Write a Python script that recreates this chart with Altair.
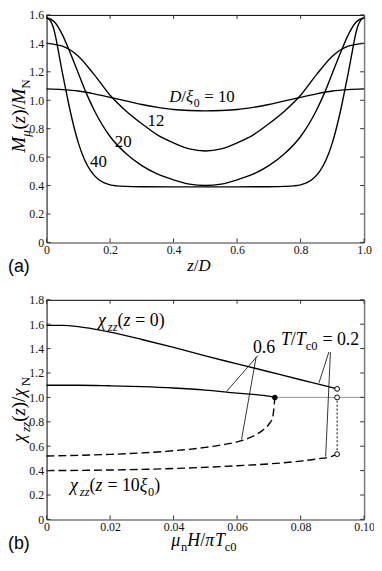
import altair as alt
import pandas as pd

# ---------------- panel (a): M_mu(z)/M_N versus z/D ----------------
z_d10 = [0, 0.05, 0.1, 0.15, 0.2, 0.25, 0.3, 0.35, 0.4, 0.45, 0.5, 0.55, 0.6, 0.65, 0.7, 0.75, 0.8, 0.85, 0.9, 0.95, 1.0]
m_d10 = [1.08, 1.075, 1.065, 1.045, 1.02, 0.995, 0.97, 0.95, 0.935, 0.928, 0.925, 0.928, 0.935, 0.95, 0.97, 0.995, 1.02, 1.045, 1.065, 1.075, 1.08]
z_d12 = [0, 0.05, 0.1, 0.15, 0.2, 0.25, 0.3, 0.35, 0.4, 0.45, 0.5, 0.55, 0.6, 0.65, 0.7, 0.75, 0.8, 0.85, 0.9, 0.95, 1.0]
m_d12 = [1.40, 1.38, 1.31, 1.18, 1.035, 0.925, 0.835, 0.755, 0.70, 0.658, 0.643, 0.658, 0.70, 0.755, 0.835, 0.925, 1.035, 1.18, 1.31, 1.38, 1.40]
z_d20 = [0, 0.025, 0.05, 0.075, 0.1, 0.125, 0.15, 0.2, 0.25, 0.3, 0.35, 0.4, 0.45, 0.5,
         0.55, 0.6, 0.65, 0.7, 0.75, 0.8, 0.85, 0.875, 0.9, 0.925, 0.95, 0.975, 1.0]
m_d20 = [1.58, 1.55, 1.46, 1.33, 1.19, 1.05, 0.93, 0.745, 0.625, 0.54, 0.48, 0.44, 0.41, 0.40,
         0.41, 0.44, 0.48, 0.54, 0.625, 0.745, 0.93, 1.05, 1.19, 1.33, 1.46, 1.55, 1.58]
z_d40 = [0, 0.01, 0.02, 0.03, 0.04, 0.05, 0.06, 0.07, 0.08, 0.09, 0.1, 0.12, 0.14, 0.16, 0.18, 0.2,
         0.22, 0.25, 0.3, 0.4, 0.5, 0.6, 0.7, 0.75, 0.78, 0.8, 0.82, 0.84, 0.86, 0.88, 0.9,
         0.91, 0.92, 0.93, 0.94, 0.95, 0.96, 0.97, 0.98, 0.99, 1.0]
m_d40 = [1.58, 1.565, 1.52, 1.43, 1.31, 1.19, 1.08, 0.97, 0.87, 0.78, 0.70, 0.58, 0.50, 0.45, 0.42, 0.405,
         0.398, 0.394, 0.392, 0.391, 0.391, 0.391, 0.392, 0.394, 0.398, 0.405, 0.42, 0.45, 0.50, 0.58, 0.70,
         0.78, 0.87, 0.97, 1.08, 1.19, 1.31, 1.43, 1.52, 1.565, 1.58]

xa_ticks = [0, 0.2, 0.4, 0.6, 0.8, 1.0]
ya_ticks = [0, 0.2, 0.4, 0.6, 0.8, 1.0, 1.2, 1.4, 1.6]

# curve labels of panel (a): left/baseline anchor in data units
a_label_x = [0.386, 0.318, 0.215, 0.137]
a_label_y = [0.985, 0.816, 0.672, 0.528]
a_label_runs = [
    [("D", "i"), ("/", "r"), ("ξ", "i"), ("0", "sr"), (0.28, "g"), ("= 10", "r")],
    [("12", "r")],
    [("20", "r")],
    [("40", "r")],
]

# ---------------- panel (b): chi_zz(z)/chi_N versus mu_n H / pi T_c0 ----------------
h_t02_z0 = [0, 0.005, 0.01, 0.015, 0.02, 0.03, 0.04, 0.05, 0.06, 0.07, 0.08, 0.09, 0.0915]
chi_t02_z0 = [1.59, 1.59, 1.58, 1.56, 1.535, 1.475, 1.41, 1.34, 1.275, 1.21, 1.145, 1.08, 1.07]
h_t06_z0 = [0, 0.01, 0.02, 0.03, 0.04, 0.05, 0.06, 0.065, 0.07, 0.0719]
chi_t06_z0 = [1.10, 1.10, 1.095, 1.088, 1.077, 1.06, 1.035, 1.025, 1.01, 1.0]
h_t06_z10 = [0, 0.01, 0.02, 0.03, 0.04, 0.05, 0.055, 0.06, 0.064, 0.068, 0.070, 0.0712, 0.0717, 0.0719]
chi_t06_z10 = [0.52, 0.525, 0.533, 0.545, 0.563, 0.59, 0.61, 0.635, 0.67, 0.73, 0.78, 0.836, 0.94, 1.0]
h_t02_z10 = [0, 0.02, 0.04, 0.06, 0.07, 0.08, 0.085, 0.09, 0.0915]
chi_t02_z10 = [0.40, 0.405, 0.417, 0.44, 0.455, 0.478, 0.495, 0.518, 0.535]

open_x = [0.0915, 0.0915, 0.0915]
open_y = [1.07, 1.0, 0.535]
filled_x = [0.0719]
filled_y = [1.0]
jump_x = [0.0915]
jump_y = [0.535]
jump_y2 = [1.0]
normal_x = [0.0719]
normal_x2 = [0.1]
normal_y = [1.0]

lead_x1 = [0.0666, 0.0660, 0.0889, 0.0894]
lead_y1 = [1.345, 1.332, 1.372, 1.372]
lead_x2 = [0.0567, 0.0614, 0.0858, 0.0879]
lead_y2 = [1.05, 0.655, 1.12, 0.515]

xb_ticks = [0, 0.02, 0.04, 0.06, 0.08, 0.1]
yb_ticks = [0, 0.2, 0.4, 0.6, 0.8, 1.0, 1.2, 1.4, 1.6, 1.8]

b_label_x = [0.0162, 0.0738, 0.065, 0.0074]
b_label_y = [1.584, 1.431, 1.36, 0.233]
b_label_runs = [
    [("χ", "i"), ("zz", "si"), ("(", "r"), ("z", "i"), (0.28, "g"), ("= 0)", "r")],
    [("T", "i"), ("/", "r"), ("T", "i"), ("c0", "sr"), (0.28, "g"), ("= 0.2", "r")],
    [("0.6", "r")],
    [("χ", "i"), ("zz", "si"), ("(", "r"), ("z", "i"), (0.28, "g"), ("= 10", "r"),
     ("ξ", "i"), ("0", "sr"), (")", "r")],
]

# axis titles (rich text runs)
ya_title = [("M", "i"), ("μ", "si"), ("(", "r"), ("z", "i"), (")/", "r"), ("M", "i"), ("N", "sr")]
xa_title = [("z", "i"), ("/", "r"), ("D", "i")]
yb_title = [("χ", "i"), ("zz", "si"), ("(", "r"), ("z", "i"), (")/", "r"), ("χ", "i"), ("N", "sr")]
xb_title = [("μ", "i"), ("n", "sr"), ("H", "i"), ("/", "r"), ("π", "i"), ("T", "i"), ("c0", "sr")]

# ---------------- layout / style ----------------
FONT = "Liberation Serif, Times New Roman, DejaVu Serif, serif"
SANS = "Liberation Sans, Arial, sans-serif"
W = 321
H = 510
A_RANGE = [230, 0]
B_RANGE = [510, 288]
GREY = "#7a7a7a"
TL = 4

xa = alt.Scale(domain=[0, 1], range=[0, W])
ya = alt.Scale(domain=[0, 1.6], range=A_RANGE)
xb = alt.Scale(domain=[0, 0.1], range=[0, W])
yb = alt.Scale(domain=[0, 1.8], range=B_RANGE)

EM_I = {"M": 0.833, "N": 0.667, "z": 0.389, "D": 0.722, "H": 0.722, "T": 0.556,
        "μ": 0.56, "χ": 0.55, "ξ": 0.46, "π": 0.55}
EM_R = {"(": 0.333, ")": 0.333, "/": 0.278, "=": 0.564, " ": 0.25, ".": 0.25,
        "N": 0.722, "n": 0.5, "c": 0.444}


def text_w(s, size, italic):
    table = EM_I if italic else EM_R
    return sum(table.get(ch, 0.5) for ch in s) * size


def layout_runs(runs, size):
    items, cum = [], 0.0
    for txt, kind in runs:
        if kind == "g":
            cum += txt * size
            continue
        sub = kind.startswith("s")
        it = kind.endswith("i")
        fs = size * 0.7 if sub else size
        shift = size * 0.28 if sub else 0.0
        items.append((txt, fs, it, shift, cum))
        cum += text_w(txt, fs, it)
    return items, cum


def rich_px(runs, x0, y0, size, angle=0, middle=True):
    items, total = layout_runs(runs, size)
    start = -total / 2 if middle else 0.0
    out = []
    for txt, fs, it, shift, off in items:
        if angle == 0:
            px, py = x0 + start + off, y0 + shift
        else:
            px, py = x0 + shift, y0 - (start + off)
        out.append(
            alt.Chart(pd.DataFrame({"t": [txt]}))
            .mark_text(align="left", baseline="alphabetic", font=FONT, fontSize=fs,
                       fontStyle="italic" if it else "normal", angle=angle, color="black")
            .encode(x=alt.value(px), y=alt.value(py), text="t:N")
        )
    return out


def rich_data(runs, x, y, xs, ys, size):
    items, _ = layout_runs(runs, size)
    out = []
    for txt, fs, it, shift, off in items:
        out.append(
            alt.Chart(pd.DataFrame({"x": [x], "y": [y], "t": [txt]}))
            .mark_text(align="left", baseline="alphabetic", font=FONT, fontSize=fs,
                       fontStyle="italic" if it else "normal", dx=off, dy=shift, color="black")
            .encode(x=alt.X("x:Q", scale=xs, axis=None), y=alt.Y("y:Q", scale=ys, axis=None), text="t:N")
        )
    return out


def label_axis(orient, values, fmt, offset=0, color="black", width=1.0):
    return alt.Axis(orient=orient, values=values,
                    labelExpr=f"datum.value == 0 ? '0' : format(datum.value, '{fmt}')",
                    title=None, ticks=False, grid=False, domain=True, domainColor=color,
                    domainWidth=width, labelFont=FONT, labelFontSize=12, labelColor="#111",
                    labelPadding=3 if orient == "left" else 2, labelFlush=False,
                    labelOverlap=False, offset=offset)


def frame_axis(orient, color, width, offset=0):
    return alt.Axis(orient=orient, labels=False, ticks=False, grid=False, title=None,
                    domain=True, domainColor=color, domainWidth=width, offset=offset)


def tick_layers(xs, ys, xt, yt, y_top, y_bot):
    dfx = pd.DataFrame({"v": xt})
    dfy = pd.DataFrame({"v": yt})
    sty = dict(color="#333", strokeWidth=1)
    left = alt.Chart(dfy).mark_rule(**sty).encode(
        y=alt.Y("v:Q", scale=ys, axis=frame_axis("right", GREY, 1.5)),
        x=alt.value(0), x2=alt.value(TL))
    right = alt.Chart(dfy).mark_rule(**sty).encode(
        y=alt.Y("v:Q", scale=ys, axis=None), x=alt.value(W - TL), x2=alt.value(W))
    bottom = alt.Chart(dfx).mark_rule(**sty).encode(
        x=alt.X("v:Q", scale=xs, axis=frame_axis("top", "black", 1, -y_top)),
        y=alt.value(y_bot), y2=alt.value(y_bot - TL))
    top = alt.Chart(dfx).mark_rule(**sty).encode(
        x=alt.X("v:Q", scale=xs, axis=None), y=alt.value(y_top), y2=alt.value(y_top + TL))
    return [left, right, bottom, top]


layers = []

# ---- panel (a)
df_a = pd.concat([
    pd.DataFrame({"z": z_d10, "m": m_d10, "s": "10"}),
    pd.DataFrame({"z": z_d12, "m": m_d12, "s": "12"}),
    pd.DataFrame({"z": z_d20, "m": m_d20, "s": "20"}),
    pd.DataFrame({"z": z_d40, "m": m_d40, "s": "40"}),
])
layers.append(
    alt.Chart(df_a).mark_line(color="black", strokeWidth=1.4, interpolate="monotone").encode(
        x=alt.X("z:Q", scale=xa, axis=label_axis("bottom", xa_ticks, ".1f", A_RANGE[0] - H, GREY, 1.5)),
        y=alt.Y("m:Q", scale=ya, axis=label_axis("left", ya_ticks, ".1f")),
        detail="s:N")
)
layers += tick_layers(xa, ya, xa_ticks, ya_ticks, A_RANGE[1], A_RANGE[0])
for runs, lx, ly in zip(a_label_runs, a_label_x, a_label_y):
    layers += rich_data(runs, lx, ly, xa, ya, 17)

# ---- panel (b)
df_solid = pd.concat([
    pd.DataFrame({"h": h_t02_z0, "c": chi_t02_z0, "s": "a"}),
    pd.DataFrame({"h": h_t06_z0, "c": chi_t06_z0, "s": "b"}),
])
df_dash = pd.concat([
    pd.DataFrame({"h": h_t06_z10, "c": chi_t06_z10, "s": "c"}),
    pd.DataFrame({"h": h_t02_z10, "c": chi_t02_z10, "s": "d"}),
])
layers.append(
    alt.Chart(pd.DataFrame({"x": normal_x, "x2": normal_x2, "y": normal_y})).mark_rule(
        color="#999", strokeWidth=1).encode(
        x=alt.X("x:Q", scale=xb, axis=None), x2="x2:Q", y=alt.Y("y:Q", scale=yb, axis=None))
)
layers.append(
    alt.Chart(df_solid).mark_line(color="black", strokeWidth=1.4, interpolate="monotone").encode(
        x=alt.X("h:Q", scale=xb, axis=label_axis("bottom", xb_ticks, ".2f", B_RANGE[0] - H, GREY, 1.5)),
        y=alt.Y("c:Q", scale=yb, axis=label_axis("left", yb_ticks, ".1f")),
        detail="s:N")
)
layers.append(
    alt.Chart(df_dash).mark_line(color="black", strokeWidth=1.4, strokeDash=[8, 4],
                                 interpolate="monotone").encode(
        x=alt.X("h:Q", scale=xb, axis=None), y=alt.Y("c:Q", scale=yb, axis=None), detail="s:N")
)
layers.append(
    alt.Chart(pd.DataFrame({"x": jump_x, "y": jump_y, "y2": jump_y2})).mark_rule(
        color="black", strokeWidth=1, strokeDash=[2, 2]).encode(
        x=alt.X("x:Q", scale=xb, axis=None), y=alt.Y("y:Q", scale=yb, axis=None), y2="y2:Q")
)
layers.append(
    alt.Chart(pd.DataFrame({"x1": lead_x1, "y1": lead_y1, "x2": lead_x2, "y2": lead_y2})).mark_rule(
        color="black", strokeWidth=0.8).encode(
        x=alt.X("x1:Q", scale=xb, axis=None), y=alt.Y("y1:Q", scale=yb, axis=None),
        x2="x2:Q", y2="y2:Q")
)
layers.append(
    alt.Chart(pd.DataFrame({"x": open_x, "y": open_y})).mark_point(
        shape="circle", filled=True, fill="white", stroke="black", strokeWidth=1,
        size=24, opacity=1).encode(
        x=alt.X("x:Q", scale=xb, axis=None), y=alt.Y("y:Q", scale=yb, axis=None))
)
layers.append(
    alt.Chart(pd.DataFrame({"x": filled_x, "y": filled_y})).mark_point(
        shape="circle", filled=True, color="black", size=30, opacity=1).encode(
        x=alt.X("x:Q", scale=xb, axis=None), y=alt.Y("y:Q", scale=yb, axis=None))
)
layers += tick_layers(xb, yb, xb_ticks, yb_ticks, B_RANGE[1], B_RANGE[0])
for runs, lx, ly in zip(b_label_runs, b_label_x, b_label_y):
    layers += rich_data(runs, lx, ly, xb, yb, 18)

# ---- axis titles and panel tags (pixel positions relative to the plot origin)
layers += rich_px(ya_title, -22, 102, 19, angle=270)
layers += rich_px(xa_title, 154, 259, 17)
layers += rich_px(yb_title, -22, 399, 19, angle=270)
layers += rich_px(xb_title, 159, 537, 18)
for tag, ty in (("(a)", 260), ("(b)", 540)):
    layers.append(
        alt.Chart(pd.DataFrame({"t": [tag]})).mark_text(
            align="left", baseline="alphabetic", font=SANS, fontSize=18, color="black")
        .encode(x=alt.value(-39), y=alt.value(ty), text="t:N")
    )

chart = (
    alt.layer(*layers)
    .resolve_scale(x="independent", y="independent")
    .properties(width=W, height=H, autosize=alt.AutoSizeParams(type="none"),
                padding={"left": 39, "top": 4, "right": 10, "bottom": 34})
    .configure_view(strokeWidth=0)
)

chart.save("out.html", embed_options={"renderer": "svg", "actions": False})
